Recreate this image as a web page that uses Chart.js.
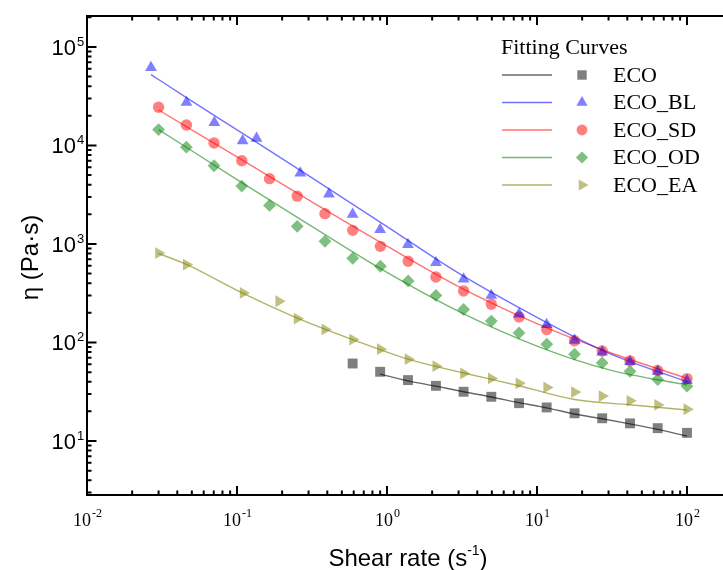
<!DOCTYPE html>
<html>
<head>
<meta charset="utf-8">
<script src="https://cdn.jsdelivr.net/npm/chart.js@4/dist/chart.umd.min.js"></script>
<style>
  html, body { margin: 0; padding: 0; background: #fff; overflow: hidden; }
  canvas { display: block; }
</style>
</head>
<body>
<canvas id="c" width="723" height="570"></canvas>
<script>
// Measured flow curves: shear rate (1/s) vs viscosity (Pa·s)
const seriesNames = ['ECO', 'ECO_BL', 'ECO_SD', 'ECO_OD', 'ECO_EA'];

const ecoRate = [0.59, 0.9, 1.38, 2.12, 3.24, 4.96, 7.59, 11.6, 17.8, 27.2, 41.7, 63.8, 100];
const ecoVisc = [61.2, 50.4, 41.5, 36.3, 31.6, 28.1, 24.2, 21.9, 19.1, 17.0, 15.1, 13.5, 12.1];

const blRate = [0.0267, 0.046, 0.0706, 0.109, 0.135, 0.264, 0.41, 0.59, 0.9, 1.38, 2.12, 3.24, 4.96, 7.59, 11.6, 17.8, 27.2, 41.7, 63.8, 100];
const blVisc = [61700, 27300, 17100, 11150, 11800, 5240, 3210, 2000, 1400, 986, 645, 441, 300, 194, 152, 105, 80, 64, 51, 41];

const sdRate = [0.03, 0.046, 0.0703, 0.1076, 0.1647, 0.252, 0.386, 0.591, 0.904, 1.384, 2.118, 3.242, 4.96, 7.59, 11.62, 17.79, 27.2, 41.7, 63.8, 100];
const sdVisc = [24400, 16100, 10600, 7000, 4600, 3060, 2030, 1375, 946, 667, 462, 333, 244, 182, 135.5, 104, 82, 65, 52, 43];

const odRate = [0.03, 0.046, 0.0703, 0.1076, 0.1647, 0.252, 0.386, 0.591, 0.904, 1.384, 2.118, 3.242, 4.96, 7.59, 11.62, 17.79, 27.2, 41.7, 63.8, 100];
const odVisc = [14500, 9600, 6220, 3870, 2460, 1510, 1064, 716, 594, 421, 300, 216, 165, 125, 96, 76, 62, 51, 42, 36];

const eaRate = [0.03, 0.046, 0.11, 0.19, 0.252, 0.386, 0.591, 0.904, 1.384, 2.118, 3.242, 4.96, 7.59, 11.62, 17.79, 27.2, 41.7, 63.8, 100];
const eaVisc = [809, 618, 318, 262, 175, 135.5, 107, 85.5, 67.7, 57.5, 48.5, 43.2, 38.5, 35, 31.4, 28.6, 25.6, 23.2, 21];

// Fitted model curves
const ecoFitRate = [0.9, 1.38, 2.12, 3.24, 4.96, 7.59, 11.6, 17.8, 27.2, 41.7, 63.8, 100];
const ecoFitVisc = [47.7, 40.8, 36, 31.6, 28, 24.5, 21.7, 18.8, 16.8, 14.9, 13.1, 11.2];

const blFitRate = [0.0267, 0.046, 0.1, 0.3, 1, 3, 10, 30, 100];
const blFitVisc = [52400, 30600, 14400, 4930, 1500, 505, 180, 78, 40];

const sdFitRate = [0.03, 0.1, 0.3, 1, 3, 10, 30, 100];
const sdFitVisc = [22900, 7640, 2800, 949, 369, 155, 80, 43.2];

const odFitRate = [0.03, 0.1, 0.3, 1, 3, 10, 30, 100];
const odFitVisc = [14500, 4500, 1580, 514, 207, 92, 53, 37];

const eaFitRate = [0.03, 0.046, 0.11, 0.25, 0.59, 1.38, 3.24, 7.59, 17.8, 41.7, 100];
const eaFitVisc = [800, 620, 315, 178, 107, 67.7, 49, 36.4, 26.4, 23.3, 20.6];

// Axis ranges and decade tick exponents
const xMin = 0.01, xMax = 173.8;
const yMin = 2.83, yMax = 206000;
const xDecades = [-2, -1, 0, 1, 2];
const yDecades = [1, 2, 3, 4, 5];

// Styling
const markerColor = ['rgba(0,0,0,0.5)', 'rgba(0,0,255,0.5)', 'rgba(255,0,0,0.5)', 'rgba(0,128,0,0.5)', 'rgba(128,128,0,0.5)'];
const lineColor = ['rgba(0,0,0,0.6)', 'rgba(0,0,255,0.55)', 'rgba(255,0,0,0.55)', 'rgba(0,128,0,0.55)', 'rgba(128,128,0,0.6)'];
const markerStyle = ['rect', 'triangle', 'circle', 'rectRot', 'triangle'];
const markerRadius = [7, 6.8, 5.7, 6.4, 6.8];
const markerRotation = [0, 0, 0, 0, 90];

const SERIF = '"Liberation Serif", "Times New Roman", serif';
const SANS = '"Liberation Sans", Arial, sans-serif';

const toPts = (xs, ys) => xs.map((x, i) => ({ x, y: ys[i] }));
const measured = [toPts(ecoRate, ecoVisc), toPts(blRate, blVisc), toPts(sdRate, sdVisc), toPts(odRate, odVisc), toPts(eaRate, eaVisc)];
const fitted = [toPts(ecoFitRate, ecoFitVisc), toPts(blFitRate, blFitVisc), toPts(sdFitRate, sdFitVisc), toPts(odFitRate, odFitVisc), toPts(eaFitRate, eaFitVisc)];

const datasets = [];
seriesNames.forEach((name, i) => {
  datasets.push({
    label: name + ' fit',
    data: fitted[i],
    showLine: true,
    borderColor: lineColor[i],
    borderWidth: 1.4,
    pointRadius: 0,
    cubicInterpolationMode: 'monotone',
    fill: false,
    order: 2
  });
});
seriesNames.forEach((name, i) => {
  datasets.push({
    label: name,
    data: measured[i],
    showLine: false,
    pointStyle: markerStyle[i],
    pointRadius: markerRadius[i],
    pointRotation: markerRotation[i],
    backgroundColor: markerColor[i],
    borderWidth: 0,
    order: 1
  });
});

// Writes "10" followed by a raised exponent
function powerLabel(ctx, exp, x, y, baseFont, supFont, supRise, align) {
  ctx.font = baseFont;
  const wBase = ctx.measureText('10').width;
  ctx.font = supFont;
  const wSup = ctx.measureText(String(exp)).width;
  let left;
  if (align === 'right') left = x - wBase;
  else left = x - (wBase + wSup) / 2;
  ctx.textAlign = 'left';
  ctx.textBaseline = 'alphabetic';
  ctx.font = baseFont;
  ctx.fillText('10', left, y);
  ctx.font = supFont;
  ctx.fillText(String(exp), left + wBase + 1, y - supRise);
}

const frameAndLabels = {
  id: 'frameAndLabels',
  afterDraw(chart) {
    const { ctx, chartArea: a, scales: { x, y } } = chart;
    ctx.save();
    ctx.strokeStyle = '#000';
    ctx.fillStyle = '#000';
    ctx.lineWidth = 2;
    ctx.lineCap = 'butt';

    // frame (open on the right)
    ctx.beginPath();
    ctx.moveTo(a.right + 2, a.top);
    ctx.lineTo(a.left, a.top);
    ctx.lineTo(a.left, a.bottom);
    ctx.lineTo(a.right + 2, a.bottom);
    ctx.stroke();

    // inward ticks on bottom and top
    ctx.beginPath();
    xDecades.forEach(e => {
      for (let m = 1; m <= 9; m++) {
        const v = m * Math.pow(10, e);
        if (v < xMin || v > xMax) continue;
        const px = x.getPixelForValue(v);
        const len = m === 1 ? 9 : 4.5;
        ctx.moveTo(px, a.bottom); ctx.lineTo(px, a.bottom - len);
        ctx.moveTo(px, a.top); ctx.lineTo(px, a.top + len);
      }
    });
    // inward ticks on the left axis
    [0].concat(yDecades).forEach(e => {
      for (let m = 1; m <= 9; m++) {
        const v = m * Math.pow(10, e);
        if (v < yMin || v > yMax) continue;
        const py = y.getPixelForValue(v);
        const len = m === 1 ? 9.5 : 4.5;
        ctx.moveTo(a.left, py); ctx.lineTo(a.left + len, py);
      }
    });
    ctx.stroke();

    // tick labels
    xDecades.forEach(e => {
      const px = x.getPixelForValue(Math.pow(10, e));
      powerLabel(ctx, e, px, a.bottom + 31, '18px ' + SERIF, '12px ' + SERIF, 9, 'center');
    });
    yDecades.forEach(e => {
      const py = y.getPixelForValue(Math.pow(10, e));
      powerLabel(ctx, e, a.left - 11, py + 8, '22px ' + SANS, '13px ' + SANS, 9, 'right');
    });

    // x-axis title with superscript
    const t1 = 'Shear rate (s', t2 = '-1', t3 = ')';
    ctx.font = '24px ' + SANS;
    const w1 = ctx.measureText(t1).width, w3 = ctx.measureText(t3).width;
    ctx.font = '14px ' + SANS;
    const w2 = ctx.measureText(t2).width;
    const cx = (a.left + a.right) / 2 + 3;
    let lx = cx - (w1 + w2 + w3) / 2;
    const by = 566;
    ctx.textAlign = 'left';
    ctx.font = '24px ' + SANS; ctx.fillText(t1, lx, by);
    ctx.font = '14px ' + SANS; ctx.fillText(t2, lx + w1, by - 11);
    ctx.font = '24px ' + SANS; ctx.fillText(t3, lx + w1 + w2, by);

    // y-axis title
    ctx.save();
    ctx.translate(38, (a.top + a.bottom) / 2 + 2);
    ctx.rotate(-Math.PI / 2);
    ctx.textAlign = 'center';
    ctx.textBaseline = 'alphabetic';
    ctx.font = '24px ' + SANS;
    ctx.fillText('\u03B7 (Pa\u00B7s)', 0, 0);
    ctx.restore();

    // legend
    ctx.textAlign = 'left';
    ctx.textBaseline = 'middle';
    ctx.font = '22px ' + SERIF;
    ctx.fillText('Fitting Curves', 501, 48);
    seriesNames.forEach((name, i) => {
      const ry = 75 + i * 27.5;
      ctx.strokeStyle = lineColor[i];
      ctx.lineWidth = 1.4;
      ctx.beginPath();
      ctx.moveTo(502, ry); ctx.lineTo(552, ry);
      ctx.stroke();
      ctx.fillStyle = markerColor[i];
      Chart.helpers.drawPoint(ctx, {
        pointStyle: markerStyle[i],
        radius: markerRadius[i] * 0.95,
        rotation: markerRotation[i],
        borderWidth: 0
      }, 582, ry);
      ctx.fillStyle = '#000';
      ctx.fillText(name, 613, ry + 1);
    });
    ctx.restore();
  }
};

new Chart(document.getElementById('c'), {
  type: 'scatter',
  data: { datasets },
  options: {
    responsive: false,
    animation: false,
    layout: { autoPadding: false, padding: { left: 87, top: 16, right: 0, bottom: 75 } },
    plugins: { legend: { display: false }, tooltip: { enabled: false } },
    scales: {
      x: { type: 'logarithmic', min: xMin, max: xMax, display: false },
      y: { type: 'logarithmic', min: yMin, max: yMax, display: false }
    }
  },
  plugins: [frameAndLabels]
});
</script>
</body>
</html>
